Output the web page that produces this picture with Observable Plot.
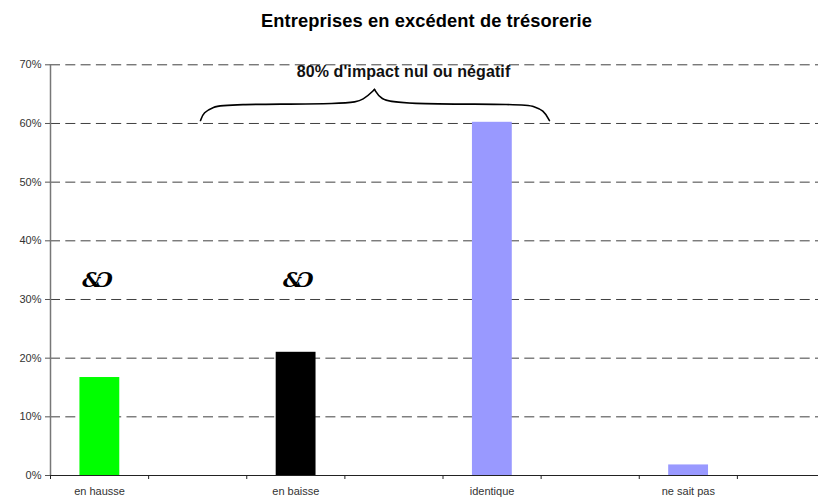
<!DOCTYPE html>
<html lang="fr">
<head>
<meta charset="utf-8">
<style>html,body{margin:0;padding:0;background:#fff}svg{display:block}
svg [aria-label="ornement"]{letter-spacing:-5px}
svg [aria-label="accolade-texte"]{letter-spacing:.1px}
svg [aria-label="titre"]{letter-spacing:.1px}
</style>
<script src="https://cdn.jsdelivr.net/npm/d3@7"></script>
<script src="https://cdn.jsdelivr.net/npm/@observablehq/plot@0.6"></script>
</head>
<body>
<script>
const chartTitle = "Entreprises en excédent de trésorerie";
const categories = ["en hausse", "en baisse", "identique", "ne sait pas"];
const slots = [0, 2, 4, 6];
const values = [16.7, 21.0, 60.2, 1.8];
const colors = ["#00ff00", "#000000", "#9999ff", "#9999ff"];
const yTicks = [0, 10, 20, 30, 40, 50, 60, 70];
const xTicks = [0, 1, 2, 3, 4, 5, 6, 7];
const braceLabel = "80% d'impact nul ou négatif";
const braceX = [1.529, 1.559, 1.661, 1.763, 3.057, 3.190, 3.302, 3.302, 3.363, 3.536, 4.851, 4.922, 5.024, 5.085];
const braceY = [60.5, 61.9, 62.8, 63.3, 63.3, 64.0, 65.8, 65.8, 64.1, 63.3, 63.3, 62.9, 62.3, 60.5];
const braceSide = ["l","l","l","l","l","l","l","r","r","r","r","r","r","r"];
const ornament = "&Ɔ";
const ornamentSlots = [0.454, 2.5];
const ornamentLevel = 33.2;

const rows = categories.map((c, i) => ({c, slot: slots[i], v: values[i], color: colors[i]}));
const brace = braceX.map((x, i) => ({x, y: braceY[i], side: braceSide[i]}));
const font = "'Liberation Sans', Arial, sans-serif";

const chart = Plot.plot({
  width: 818,
  height: 498,
  marginLeft: 50,
  marginRight: 0,
  marginTop: 64.3,
  marginBottom: 23,
  style: {background: "#fff", fontFamily: font},
  x: {type: "linear", domain: [0, 8], range: [50, 835]},
  y: {type: "linear", domain: [0, 70], range: [475, 64.3]},
  marks: [
    Plot.ruleY(yTicks, {stroke: "#404040", strokeWidth: 1, strokeDasharray: "10 5.3"}),
    Plot.rect(rows, {
      x1: d => d.slot + 0.3, x2: d => d.slot + 0.706,
      y1: 0, y2: "v", fill: "color", inset: 0
    }),
    Plot.ruleX([0], {y1: 0, y2: 70, stroke: "#777", strokeWidth: 1.5}),
    Plot.ruleY([0], {stroke: "#222", strokeWidth: 1}),
    Plot.axisY({ticks: yTicks, tickFormat: d => d + "%", tickSize: 5, tickPadding: 4,
      fontSize: 11, stroke: "#555", fill: "#333", label: null}),
    Plot.axisX({ticks: xTicks, tickFormat: () => "", tickSize: 4, stroke: "#222", label: null}),
    Plot.text(rows, {x: d => d.slot + 0.5, text: "c", frameAnchor: "bottom", dy: 19.5,
      fontSize: 11, fill: "#333", textAnchor: "middle"}),
    Plot.line(brace, {x: "x", y: "y", z: "side", curve: "basis", stroke: "#000", strokeWidth: 1.6}),
    Plot.text([braceLabel], {ariaLabel: () => "accolade-texte", frameAnchor: "top-left", dx: 353, dy: 7.5, fontSize: 16, fontWeight: "bold", fill: "#111", textAnchor: "middle", lineAnchor: "middle"}),
    Plot.text([chartTitle], {ariaLabel: () => "titre", frameAnchor: "top-left", dx: 376, dy: -43.5, fontSize: 18.3, fontWeight: "bold", fill: "#000", textAnchor: "middle", lineAnchor: "middle"}),
    Plot.text(ornamentSlots, {ariaLabel: () => "ornement", x: d => d, y: () => ornamentLevel, text: () => ornament,
      fontFamily: "'DejaVu Serif', serif", fontWeight: "bold", fontStyle: "italic", fontSize: 21, fill: "#000"})
  ]
});
document.body.append(chart);
</script>
</body>
</html>
